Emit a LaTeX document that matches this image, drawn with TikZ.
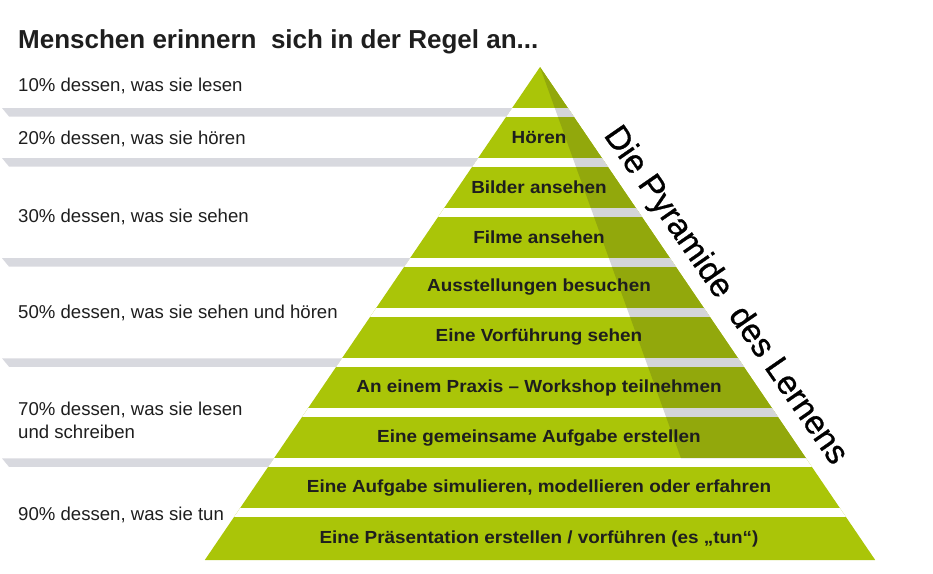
\documentclass[tikz,border=0pt]{standalone}
\usepackage{fontspec}
\setmainfont{Liberation Sans}
\newfontfamily\sidefont[FakeBold=0.8]{Liberation Sans}
\definecolor{lgreen}{RGB}{170,197,8}
\definecolor{dgreen}{RGB}{146,168,12}
\definecolor{gapgrey}{RGB}{212,213,216}
\definecolor{bargrey}{RGB}{216,217,223}
\definecolor{txt}{RGB}{30,30,30}
\begin{document}
\begin{tikzpicture}[x=1pt,y=-1pt,
  lefttext/.style={anchor=west,inner sep=0pt,text=txt,font=\fontsize{18.6}{23}\selectfont,align=left},
  bandlabel/.style={inner sep=0pt,text=txt,xscale=1.08,font=\fontsize{17.5}{20}\bfseries\selectfont},
  titletext/.style={anchor=west,inner sep=0pt,text=txt,font=\fontsize{26}{31}\bfseries\selectfont},
  sidetext/.style={inner sep=0pt,text=black,font=\sidefont\fontsize{33.4}{40}\selectfont}]
\useasboundingbox (0,0) rectangle (933,573);
% pyramid
\fill[lgreen] (540,67) -- (204.8,560) -- (875.2,560) -- cycle;
\fill[dgreen] (540,67) -- (681,458.35) -- (806.1,458.35) -- cycle;
% white gaps
\begin{scope}
\clip (540,67) -- (204.8,560) -- (875.2,560) -- cycle;
\foreach \k in {0,...,8}{
  \fill[white] (150,{108+50.05*\k}) rectangle (900,{116.5+50.05*\k});
}
\end{scope}
% grey gaps in dark part
\begin{scope}
\clip (540,67) -- (681,458.35) -- (806.1,458.35) -- cycle;
\foreach \k in {0,...,7}{
  \fill[gapgrey] (150,{108+50.05*\k}) rectangle (900,{116.5+50.05*\k});
}
\end{scope}
% grey bars on the left
\foreach \k in {0,1,3,5,7}{
  \pgfmathsetmacro{\yt}{108+50.05*\k}
  \pgfmathsetmacro{\yb}{116.5+50.05*\k}
  \fill[bargrey] (2,\yt) -- ({540-0.68*(\yt-67)},\yt) -- ({540-0.68*(\yb-67)},\yb) -- (9,\yb) -- cycle;
}
% title
\node[titletext] (title) at (18,42) {Menschen erinnern\ \ sich in der Regel an...};
% left texts
\node[lefttext] (p10) at (18,86) {10\% dessen, was sie lesen};
\node[lefttext] (p20) at (18,139) {20\% dessen, was sie hören};
\node[lefttext] (p30) at (18,217) {30\% dessen, was sie sehen};
\node[lefttext] (p50) at (18,313) {50\% dessen, was sie sehen und hören};
\node[lefttext] (p70) at (18,420) {70\% dessen, was sie lesen\\und schreiben};
\node[lefttext] (p90) at (18,515) {90\% dessen, was sie tun};
% band labels
\node[bandlabel] (b1) at (539,137.25) {Hören};
\node[bandlabel] (b2) at (539,187.3) {Bilder ansehen};
\node[bandlabel] (b3) at (539,237.35) {Filme ansehen};
\node[bandlabel] (b4) at (539,287.4) {Ausstellungen besuchen};
\node[bandlabel] (b5) at (539,337.45) {Eine Vorführung sehen};
\node[bandlabel] (b6) at (539,387.5) {An einem Praxis – Workshop teilnehmen};
\node[bandlabel] (b7) at (539,437.55) {Eine gemeinsame Aufgabe erstellen};
\node[bandlabel] (b8) at (539,487.6) {Eine Aufgabe simulieren, modellieren oder erfahren};
\node[bandlabel] (b9) at (539,538.5) {Eine Präsentation erstellen / vorführen (es „tun“)};
% side title
\node[sidetext,rotate=-55.3] (pdl) at (725,296) {Die Pyramide\ \ des Lernens};
\end{tikzpicture}
\end{document}
